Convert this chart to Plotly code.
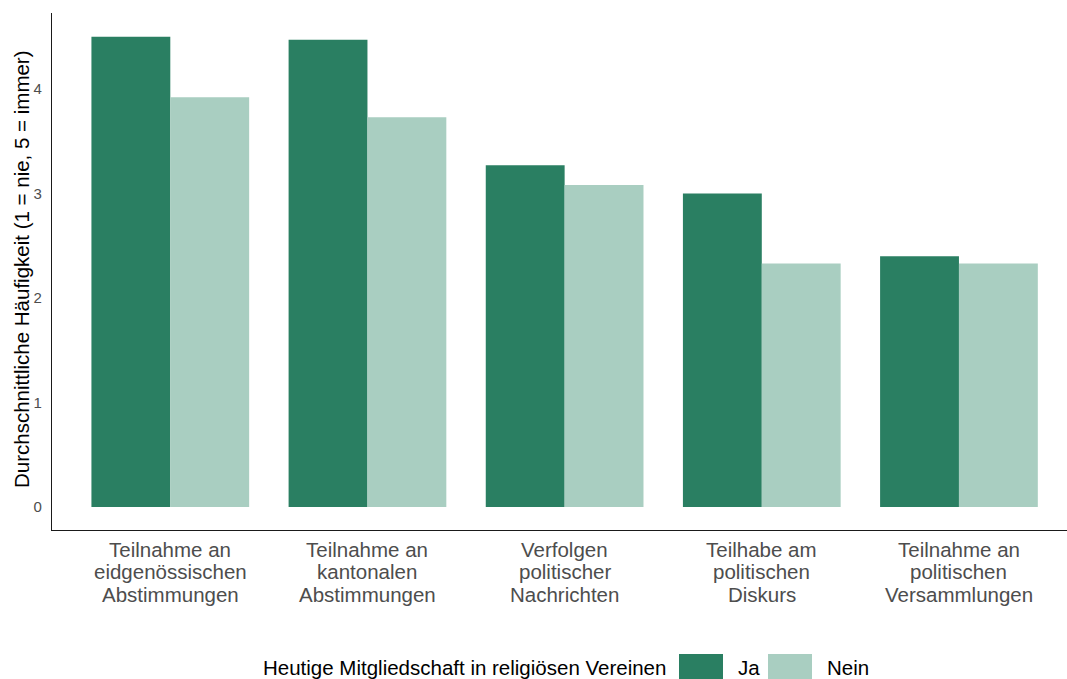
import plotly.graph_objects as go

categories = [
    ["Teilnahme an", "eidgenössischen", "Abstimmungen"],
    ["Teilnahme an", "kantonalen", "Abstimmungen"],
    ["Verfolgen", "politischer", "Nachrichten"],
    ["Teilhabe am", "politischen", "Diskurs"],
    ["Teilnahme an", "politischen", "Versammlungen"],
]
groups = ["Ja", "Nein"]
ja_values = [4.50, 4.47, 3.27, 3.00, 2.40]
nein_values = [3.92, 3.73, 3.08, 2.33, 2.33]
y_ticks = [0, 1, 2, 3, 4]
legend_title = "Heutige Mitgliedschaft in religiösen Vereinen"
y_title = "Durchschnittliche Häufigkeit (1 = nie, 5 = immer)"

FONT = "Liberation Sans, Arial, sans-serif"
COLORS = {"Ja": "#2a7f62", "Nein": "#a9cec1"}
W, H = 1067, 679
L, R, T, B = 52, 0, 13, 149
PW, PH = W - L - R, H - T - B

def px_x(p):
    return (p - L) / PW

def px_y(p):
    return (H - B - p) / PH

x_idx = list(range(len(categories)))

fig = go.Figure()
fig.add_trace(go.Bar(x=x_idx, y=ja_values, name=groups[0], showlegend=False,
                     marker=dict(color=COLORS["Ja"], line=dict(width=0))))
fig.add_trace(go.Bar(x=x_idx, y=nein_values, name=groups[1], showlegend=False,
                     marker=dict(color=COLORS["Nein"], line=dict(width=0))))

annotations = []
# multi-line category labels (ggplot-like tight line height)
line_y = [549, 571.5, 594]
for i, lines in enumerate(categories):
    for j, txt in enumerate(lines):
        annotations.append(dict(
            x=i, xref="x", y=px_y(line_y[j]), yref="paper", text=txt,
            showarrow=False, xanchor="center", yanchor="middle",
            font=dict(size=20.5, color="#4d4d4d", family=FONT),
        ))

# y-axis title
annotations.append(dict(
    x=px_x(21), xref="paper", y=px_y(269), yref="paper", text=y_title,
    textangle=-90, showarrow=False, xanchor="center", yanchor="middle",
    font=dict(size=20.5, color="black", family=FONT),
))

# legend (ggplot style, bottom)
leg_y = 667
annotations.append(dict(
    x=px_x(668), xref="paper", y=px_y(leg_y), yref="paper", text=legend_title,
    showarrow=False, xanchor="right", yanchor="middle",
    font=dict(size=20.5, color="black", family=FONT),
))
shapes = []
swatch_x = [679, 768]
label_x = [736, 825]
for g, sx, lx in zip(groups, swatch_x, label_x):
    shapes.append(dict(type="rect", xref="paper", yref="paper",
                       x0=px_x(sx), x1=px_x(sx + 44), y0=px_y(654), y1=px_y(698),
                       fillcolor=COLORS[g], line=dict(width=0), layer="above"))
    annotations.append(dict(
        x=px_x(lx), xref="paper", y=px_y(leg_y), yref="paper", text=g,
        showarrow=False, xanchor="left", yanchor="middle",
        font=dict(size=20.5, color="black", family=FONT),
    ))

fig.update_layout(
    width=W, height=H,
    margin=dict(l=L, r=R, t=T, b=B, autoexpand=False),
    barmode="group", bargap=0.2, bargroupgap=0,
    plot_bgcolor="white", paper_bgcolor="white",
    font=dict(family=FONT, color="black"),
    showlegend=False,
    xaxis=dict(
        tickmode="array", tickvals=x_idx, showticklabels=False,
        range=[-0.6, 4.548], showline=True, linecolor="#1a1a1a", linewidth=1.4,
        ticks="", showgrid=False, zeroline=False, automargin=False,
    ),
    yaxis=dict(
        range=[-0.22, 4.727], tickmode="array", tickvals=y_ticks,
        showline=True, linecolor="#1a1a1a", linewidth=1.4,
        ticks="", showgrid=False, zeroline=False, automargin=False,
        tickfont=dict(size=15, color="#4d4d4d", family=FONT),
        ticklabelstandoff=6,
    ),
    annotations=annotations,
    shapes=shapes,
)

fig.write_html(
    "out.html",
    config={"displayModeBar": False},
    post_script="document.body.style.margin='0';document.body.style.overflow='hidden';",
)
